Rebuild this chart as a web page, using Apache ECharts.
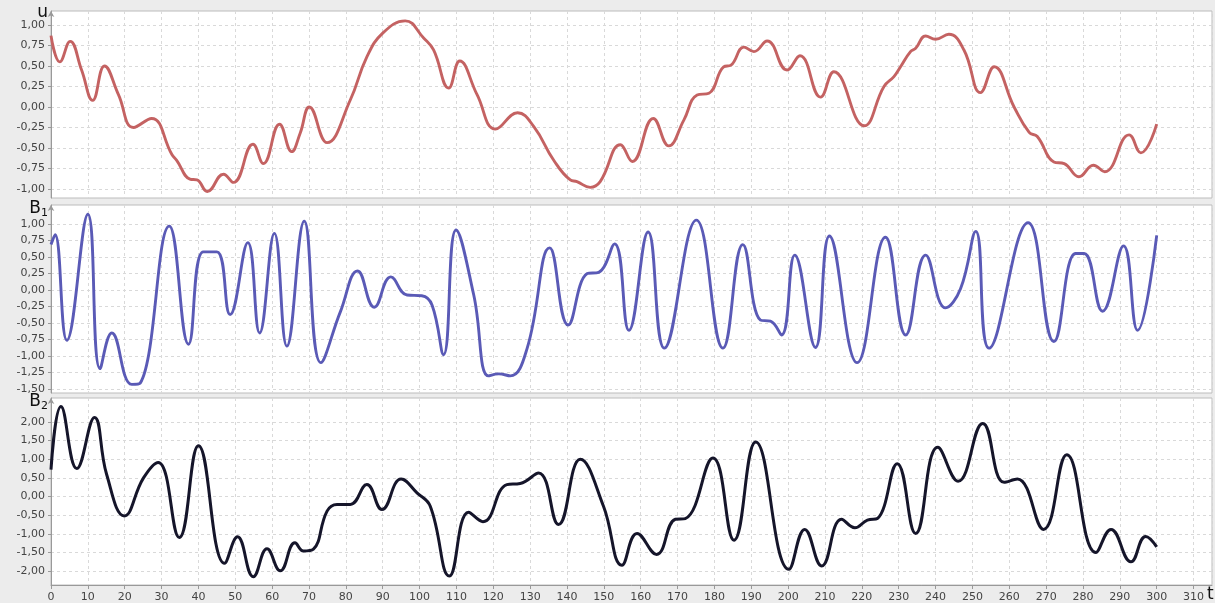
<!DOCTYPE html>
<html>
<head>
<meta charset="utf-8">
<script src="https://cdn.jsdelivr.net/npm/echarts@6/dist/echarts.min.js"></script>
<style>
   html, body { margin: 0; padding: 0; background: #ececec; }
   #chart { width: 1215px; height: 603px; }
</style>
</head>
<body>
<div id="chart"></div>
<script>
// u(t)
const tU = [0, 2.4, 5.2, 8.3, 11.3, 14.5, 18.3, 22.4, 27.3, 32.8, 34.1, 37.7, 39.6, 42.4, 46.8, 49.5, 54.8, 57.6, 62.0, 65.3,
   67.6, 70.1, 74.9, 81.2, 85.7, 90, 96.1, 101.1, 103.8, 107.9, 110.9, 115.6, 120.6, 126.6, 131, 136.4, 140.9, 142.7, 146.3, 149,
   154.5, 157.7, 163.4, 167.6, 171.7, 175.3, 178.5, 182.5, 184.5, 188, 190.7, 194.3, 199.7, 203.2, 208.8, 212.4, 220.6, 226, 228.7, 230.5,
   233.2, 234.6, 237.3, 240, 243.6, 247.7, 252.2, 255.9, 261.3, 265.4, 267.6, 272.1, 274.9, 278.9, 282.8, 285.9, 292.5, 295.7, 300];
const vU = [0.87, 0.55, 0.80, 0.45, 0.08, 0.50, 0.15, -0.25, -0.14, -0.58, -0.65, -0.88, -0.89, -1.03, -0.82, -0.92, -0.455, -0.69, -0.21, -0.545,
   -0.32, 0.0, -0.435, 0.085, 0.61, 0.90, 1.05, 0.84, 0.695, 0.23, 0.56, 0.15, -0.27, -0.07, -0.24, -0.65, -0.89, -0.91, -0.98, -0.91,
   -0.46, -0.665, -0.14, -0.475, -0.16, 0.146, 0.167, 0.49, 0.51, 0.73, 0.675, 0.805, 0.45, 0.625, 0.12, 0.43, -0.23, 0.25, 0.37, 0.49,
   0.675, 0.715, 0.866, 0.825, 0.886, 0.695, 0.175, 0.49, 0.0, -0.31, -0.36, -0.67, -0.69, -0.85, -0.71, -0.79, -0.34, -0.56, -0.21];

// B1(t)
const tB1 = [0, 1.1, 4.3, 10, 13.3, 16.5, 21.9, 24.2, 32.1, 37.3, 41.3, 45, 48.6, 53.4, 56.6, 60.6, 64, 68.7, 73.2, 78.5,
   83.2, 87.7, 92.2, 96.6, 100.6, 103.4, 106.5, 109.9, 114.7, 118.7, 121.5, 124.6, 129.2, 135.3, 140.3, 145.5, 148.6, 152.9, 156.8, 162,
   166.4, 175.1, 182.3, 187.7, 192.5, 195.2, 198.2, 201.8, 207.4, 211.2, 218.7, 226.4, 231.9, 237.3, 242.7, 246.8, 250.9, 254.5, 265.1, 272.1,
   278, 280.3, 285.3, 291, 294.8, 300];
const vB1 = [0.69, 0.84, -0.76, 1.15, -1.19, -0.65, -1.43, -1.41, 0.97, -0.82, 0.58, 0.58, -0.37, 0.72, -0.65, 0.86, -0.85, 1.045, -1.10, -0.33,
   0.29, -0.26, 0.20, -0.075, -0.085, -0.23, -0.98, 0.91, -0.075, -1.30, -1.27, -1.30, -0.88, 0.64, -0.53, 0.25, 0.27, 0.70, -0.61, 0.88,
   -0.88, 1.06, -0.88, 0.69, -0.455, -0.47, -0.68, 0.53, -0.87, 0.82, -1.10, 0.80, -0.68, 0.53, -0.27, 0.025, 0.89, -0.88, 1.02, -0.78,
   0.555, 0.555, -0.32, 0.67, -0.61, 0.83];

// B2(t)
const tB2 = [0, 2.7, 7, 11.8, 15.1, 19.9, 25.1, 29.1, 34.8, 40, 47.1, 50.6, 54.9, 58.6, 62.2, 66.2, 68.5, 71.2, 74.9, 77.6,
   81.2, 85.7, 89.8, 95, 99.3, 102.9, 108.1, 113.3, 117.2, 123.7, 127.3, 132.3, 137.7, 143.6, 149.9, 154.9, 159, 164.3, 169.4, 172.1,
   179.6, 185.3, 191.2, 200.2, 204.5, 209.1, 214.5, 218.1, 221.5, 224.2, 229.6, 234.6, 240.6, 246.1, 252.8, 258.6, 262.2, 269.3, 275.6, 283.5,
   287.6, 293, 297, 300];
const vB2 = [0.72, 2.41, 0.75, 2.12, 0.59, -0.52, 0.5, 0.915, -1.10, 1.36, -1.79, -1.08, -2.15, -1.40, -1.99, -1.24, -1.46, -1.41, -0.39, -0.21,
   -0.21, 0.32, -0.35, 0.47, 0.10, -0.26, -2.13, -0.42, -0.675, 0.32, 0.35, 0.63, -0.75, 1.0, -0.26, -1.84, -0.99, -1.55, -0.61, -0.59,
   1.03, -1.17, 1.46, -1.95, -0.88, -1.86, -0.61, -0.835, -0.63, -0.59, 0.88, -0.99, 1.32, 0.41, 1.96, 0.38, 0.47, -0.88, 1.12, -1.50,
   -0.88, -1.75, -1.07, -1.35];

// tick labels
const ticksU = [-1, -0.75, -0.5, -0.25, 0, 0.25, 0.5, 0.75, 1];
const ticksB1 = [-1.5, -1.25, -1, -0.75, -0.5, -0.25, 0, 0.25, 0.5, 0.75, 1];
const ticksB2 = [-2, -1.5, -1, -0.5, 0, 0.5, 1, 1.5, 2];

const pairs = (ts, vs) => ts.map((t, i) => [t, vs[i]]);
const fmt = (v) => v.toFixed(2).replace('.', ',');
const font = 'DejaVu Sans';

const grids = [
   { left: 51, right: 3, top: 11, height: 187 },
   { left: 51, right: 3, top: 205, height: 188 },
   { left: 51, right: 3, top: 398, height: 188 }
];
const yRanges = [[-1.11, 1.17], [-1.56, 1.29], [-2.37, 2.64]];
const yTicks = [ticksU, ticksB1, ticksB2];
const yNames = ['u', 'B{s|1}', 'B{s|2}'];
const yNameGaps = [-2, -4, -4];

const splitLine = { show: true, lineStyle: { color: '#d9d9d9', type: [3, 3], width: 1 } };

const chart = echarts.init(document.getElementById('chart'));
chart.setOption({
   backgroundColor: '#ececec',
   animation: false,
   grid: grids.map(g => Object.assign({ show: true, backgroundColor: '#fff', borderColor: '#bcbcbc', borderWidth: 1 }, g)),
   xAxis: [0, 1, 2].map(i => ({
      type: 'value',
      gridIndex: i,
      min: 0,
      max: 315,
      interval: 10,
      name: i === 2 ? 't' : '',
      nameLocation: 'end',
      nameGap: -5,
      nameMoveOverlap: false,
      nameTextStyle: { fontFamily: font, fontSize: 17, color: '#111', verticalAlign: 'top', align: 'left', padding: [1, 0, 0, 0] },
      axisLine: { show: i === 2, onZero: false, lineStyle: { color: '#999' } },
      axisTick: { show: i === 2, length: 4, lineStyle: { color: '#999' } },
      axisLabel: { show: i === 2, showMaxLabel: false, margin: 7, fontFamily: font, fontSize: 11, color: '#444' },
      splitLine
   })),
   yAxis: [0, 1, 2].map(i => ({
      type: 'value',
      gridIndex: i,
      min: yRanges[i][0],
      max: yRanges[i][1],
      name: yNames[i],
      nameLocation: 'end',
      nameGap: yNameGaps[i],
      nameMoveOverlap: false,
      nameTextStyle: {
         fontFamily: font, fontSize: 17, color: '#111', align: 'right', verticalAlign: 'middle', lineHeight: 20,
         padding: [0, 3, 0, 0],
         rich: { s: { fontFamily: font, fontSize: 11, color: '#111', lineHeight: 11, verticalAlign: 'bottom' } }
      },
      axisLine: { show: true, onZero: false, symbol: ['none', 'arrow'], symbolSize: [5, 6], lineStyle: { color: '#999' } },
      axisTick: { show: true, length: 3, customValues: yTicks[i], lineStyle: { color: '#999' } },
      axisLabel: { customValues: yTicks[i], formatter: fmt, margin: 6, fontFamily: font, fontSize: 11, color: '#444' },
      splitLine
   })),
   series: [
      { type: 'line', xAxisIndex: 0, yAxisIndex: 0, data: pairs(tU, vU), smooth: 0.45, showSymbol: false,
        lineStyle: { color: '#c46262', width: 2.9 } },
      { type: 'line', xAxisIndex: 1, yAxisIndex: 1, data: pairs(tB1, vB1), smooth: 0.45, showSymbol: false,
        lineStyle: { color: '#5a5ab6', width: 2.9 } },
      { type: 'line', xAxisIndex: 2, yAxisIndex: 2, data: pairs(tB2, vB2), smooth: 0.45, showSymbol: false,
        lineStyle: { color: '#15152a', width: 3 } }
   ]
});
</script>
</body>
</html>
